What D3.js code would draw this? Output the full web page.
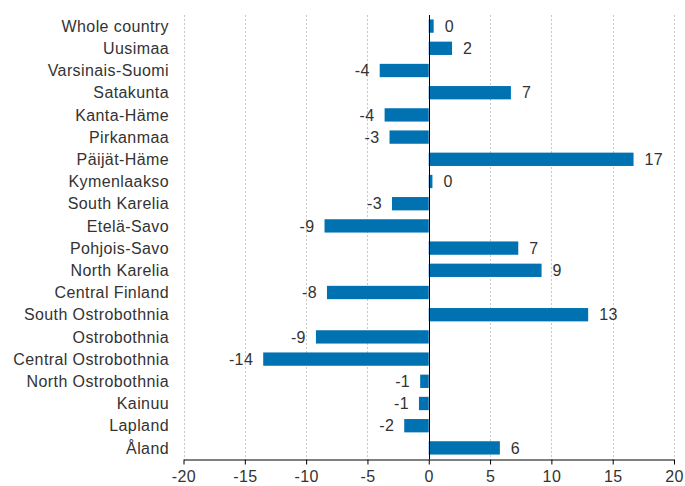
<!DOCTYPE html>
<html>
<head>
    <meta charset="utf-8">
    <script src="https://cdn.jsdelivr.net/npm/d3@7"></script>
    <style>
        * { margin: 0; padding: 0; }
        body { background: #fff; }
        svg text { font-family: "Liberation Sans", Arial, sans-serif; fill: #333; letter-spacing: 0.4px; }
    </style>
</head>
<body>
    <svg id="chart" width="685" height="486"></svg>
    <script>
        var regions = ["Whole country", "Uusimaa", "Varsinais-Suomi", "Satakunta", "Kanta-Häme",
            "Pirkanmaa", "Päijät-Häme", "Kymenlaakso", "South Karelia", "Etelä-Savo",
            "Pohjois-Savo", "North Karelia", "Central Finland", "South Ostrobothnia", "Ostrobothnia",
            "Central Ostrobothnia", "North Ostrobothnia", "Kainuu", "Lapland", "Åland"];
        var values = [0.4, 1.9, -4.0, 6.7, -3.6, -3.2, 16.7, 0.3, -3.0, -8.5,
            7.3, 9.2, -8.3, 13.0, -9.2, -13.5, -0.7, -0.8, -2.0, 5.8];
        var valueLabels = ["0", "2", "-4", "7", "-4", "-3", "17", "0", "-3", "-9",
            "7", "9", "-8", "13", "-9", "-14", "-1", "-1", "-2", "6"];
        var xTicks = [-20, -15, -10, -5, 0, 5, 10, 15, 20];

        var data = regions.map(function (r, i) {
            return { region: r, value: values[i], label: valueLabels[i] };
        });

        var plotLeft = 183.5, plotRight = 674, plotTop = 15, plotBottom = 459;
        var svg = d3.select("#chart");

        var x = d3.scaleLinear().domain([-20, 20]).range([plotLeft, plotRight]);
        var y = d3.scaleBand().domain(regions).range([plotTop, plotBottom]).paddingInner(0.4).paddingOuter(0.2);

        // dashed grid
        svg.append("g").selectAll("line").data(xTicks.filter(function (t) { return t != 0; }))
            .enter().append("line")
            .attr("x1", function (d) { return Math.round(x(d)) + 0.5; })
            .attr("x2", function (d) { return Math.round(x(d)) + 0.5; })
            .attr("y1", plotTop).attr("y2", plotBottom)
            .attr("stroke", "#c8c8c8")
            .attr("stroke-dasharray", "2,2");

        // bars
        svg.append("g").selectAll("rect").data(data)
            .enter().append("rect")
            .attr("x", function (d) { return x(Math.min(0, d.value)); })
            .attr("y", function (d) { return y(d.region); })
            .attr("width", function (d) { return Math.abs(x(d.value) - x(0)); })
            .attr("height", y.bandwidth())
            .attr("fill", "#0072b2");

        // value labels
        svg.append("g").selectAll("text").data(data)
            .enter().append("text")
            .attr("x", function (d) { return d.value >= 0 ? x(d.value) + 11 : x(d.value) - 10; })
            .attr("y", function (d) { return y(d.region) + y.bandwidth() / 2; })
            .attr("dy", "0.36em")
            .attr("text-anchor", function (d) { return d.value >= 0 ? "start" : "end"; })
            .style("font-size", "16px")
            .text(function (d) { return d.label; });

        // zero line
        svg.append("line")
            .attr("x1", Math.round(x(0)) + 0.5).attr("x2", Math.round(x(0)) + 0.5)
            .attr("y1", plotTop).attr("y2", plotBottom)
            .attr("stroke", "#000");

        // region labels
        svg.append("g").selectAll("text").data(regions)
            .enter().append("text")
            .attr("x", 169)
            .attr("y", function (d) { return y(d) + y.bandwidth() / 2; })
            .attr("dy", "0.36em")
            .attr("text-anchor", "end")
            .style("font-size", "16px")
            .text(function (d) { return d; });

        // x axis
        var xAxis = svg.append("g")
            .attr("transform", "translate(0," + (plotBottom + 0.5) + ")")
            .call(d3.axisBottom(x).tickValues(xTicks).tickSize(5).tickSizeOuter(0).tickPadding(6)
                .tickFormat(function (d) { return String(d); }));
        xAxis.select(".domain").attr("stroke", "#000");
        xAxis.selectAll(".tick line").attr("stroke", "#000");
        xAxis.selectAll(".tick text")
            .style("font-size", "16px")
            .style("font-family", "Liberation Sans, Arial, sans-serif")
            .attr("fill", "#333");
    </script>
</body>
</html>
